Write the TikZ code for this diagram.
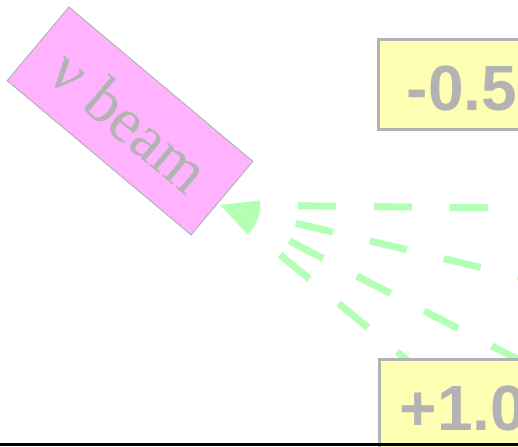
\documentclass[tikz,border=0pt]{standalone}
\usepackage{fontspec}
\usepackage{tikz}
\usetikzlibrary{arrows.meta}
\newfontfamily\numfont{Liberation Sans}
\newfontfamily\beamfont{Liberation Serif}
\definecolor{beampink}{RGB}{255,179,255}
\definecolor{boxyellow}{RGB}{255,255,179}
\definecolor{labelgray}{RGB}{179,179,179}
\definecolor{raygreen}{RGB}{179,255,179}

\begin{document}
\begin{tikzpicture}[x=1pt, y=1pt, >={Triangle[length=40pt, width=10pt, line width=0pt]},
  beambox/.style={draw=labelgray, line width=1pt, fill=beampink, text=labelgray,
    minimum width=240pt, minimum height=96pt, inner sep=0pt, outer sep=3pt,
    font=\beamfont\fontsize{64}{64}\selectfont},
  valbox/.style={draw=labelgray, line width=3pt, fill=boxyellow, text=labelgray,
    anchor=north west, minimum width=167pt, text height=52pt, text depth=0pt,
    inner ysep=19pt, font=\numfont\bfseries\fontsize{64}{64}\selectfont},
  ray/.style={<-, raygreen, line width=7pt, dash pattern=on 38pt off 38pt, dash phase=38pt}]
  \useasboundingbox (0,0) rectangle (518,446);
  \clip (0,0) rectangle (518,446);
  \node[beambox, rotate=-40] (beam) at (130,325) {ν beam};
  \coordinate (ray1) at (700,236);
  \coordinate (ray2) at (700,126);
  \coordinate (ray3) at (700,-8);
  \coordinate (ray4) at (700,-157);
  \draw[ray] (beam.-3) -- (ray1);
  \draw[ray] (beam.-3) -- (ray2);
  \draw[ray] (beam.-3) -- (ray3);
  \draw[ray] (beam.-3) -- (ray4);
  \node[valbox] (minus) at (377,407.5) {-0.5};
  \node[valbox] (plus) at (378,88) {+1.0};
  \draw[line width=3pt] (0,1.5) -- (518,1.5);
\end{tikzpicture}
\end{document}
